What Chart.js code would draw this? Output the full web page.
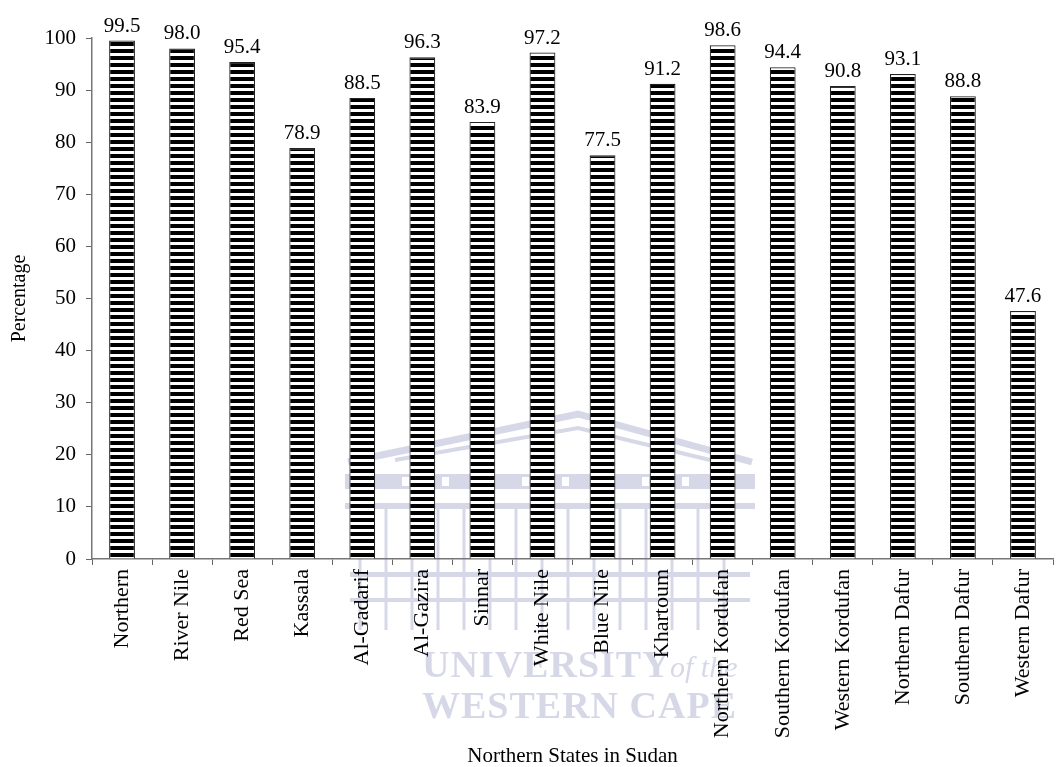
<!DOCTYPE html>
<html>
<head>
<meta charset="utf-8">
<script src="https://cdn.jsdelivr.net/npm/chart.js@4.4.1/dist/chart.umd.min.js"></script>
<style>
  html, body { margin: 0; padding: 0; background: #fff; }
  #wrap { width: 1059px; height: 767px; position: relative; }
</style>
</head>
<body>
<div id="wrap"><canvas id="stateChart"></canvas></div>
<script>
// state names and percentages
const states = ['Northern', 'River Nile', 'Red Sea', 'Kassala', 'Al-Gadarif', 'Al-Gazira', 'Sinnar',
  'White Nile', 'Blue Nile', 'Khartoum', 'Northern Kordufan', 'Southern Kordufan', 'Western Kordufan',
  'Northern Dafur', 'Southern Dafur', 'Western Dafur'];
const percentages = [99.5, 98.0, 95.4, 78.9, 88.5, 96.3, 83.9, 97.2, 77.5, 91.2, 98.6, 94.4, 90.8, 93.1, 88.8, 47.6];
const yTicks = [0, 10, 20, 30, 40, 50, 60, 70, 80, 90, 100];

const SERIF = '"Liberation Serif", "Times New Roman", serif';
const WM = '#d6d8e8';

// horizontal stripe fill for the bars
function makeStripes() {
  const c = document.createElement('canvas');
  c.width = 4; c.height = 7;
  const g = c.getContext('2d');
  g.fillStyle = '#fff';
  g.fillRect(0, 0, 4, 7);
  g.fillStyle = '#000';
  g.fillRect(0, 0, 4, 4);
  return g.createPattern(c, 'repeat');
}

// faint campus watermark, drawn first so axes and labels sit on top
const watermark = {
  id: 'watermark',
  beforeDraw(chart) {
    const ctx = chart.ctx;
    ctx.save();
    ctx.strokeStyle = WM;
    ctx.fillStyle = WM;
    // pediment
    ctx.lineWidth = 7;
    ctx.beginPath();
    ctx.moveTo(348, 462); ctx.lineTo(578, 414); ctx.lineTo(752, 462);
    ctx.stroke();
    ctx.lineWidth = 4;
    ctx.beginPath();
    ctx.moveTo(395, 460); ctx.lineTo(578, 428); ctx.lineTo(710, 460);
    ctx.stroke();
    // entablature band with slots
    ctx.fillRect(345, 474, 410, 15);
    ctx.fillStyle = '#fff';
    for (let x = 362; x < 740; x += 40) ctx.fillRect(x, 477, 7, 9);
    ctx.fillStyle = WM;
    ctx.fillRect(345, 503, 410, 6);
    ctx.fillRect(350, 572, 400, 5);
    ctx.fillRect(350, 598, 400, 4);
    // columns
    ctx.lineWidth = 3;
    for (let x = 360; x < 745; x += 26) {
      ctx.beginPath();
      ctx.moveTo(x, 509); ctx.lineTo(x, 630);
      ctx.stroke();
    }
    // lettering
    ctx.textBaseline = 'alphabetic';
    ctx.textAlign = 'left';
    ctx.font = 'bold 38px ' + SERIF;
    ctx.letterSpacing = '1px';
    ctx.fillText('UNIVERSITY', 422, 677);
    ctx.fillText('WESTERN CAPE', 422, 718);
    ctx.font = 'italic 30px ' + SERIF;
    ctx.letterSpacing = '0px';
    ctx.fillText('of the', 670, 677);
    ctx.restore();
  }
};

// value printed above each bar
const valueLabels = {
  id: 'valueLabels',
  afterDatasetsDraw(chart) {
    const ctx = chart.ctx;
    const meta = chart.getDatasetMeta(0);
    ctx.save();
    ctx.fillStyle = '#000';
    ctx.font = '21px ' + SERIF;
    ctx.textAlign = 'center';
    ctx.textBaseline = 'bottom';
    meta.data.forEach((bar, i) => {
      ctx.fillText(percentages[i].toFixed(1), bar.x, bar.y - 4);
    });
    ctx.restore();
  }
};

const ctx = document.getElementById('stateChart').getContext('2d');
new Chart(ctx, {
  type: 'bar',
  data: {
    labels: states,
    datasets: [{
      data: percentages,
      backgroundColor: makeStripes(),
      borderColor: '#222',
      borderWidth: 1.2,
      barPercentage: 0.43,
      categoryPercentage: 1.0
    }]
  },
  options: {
    responsive: true,
    maintainAspectRatio: false,
    animation: false,
    layout: { padding: { top: 38, right: 6, left: 0, bottom: 0 } },
    plugins: {
      legend: { display: false },
      tooltip: { enabled: false }
    },
    scales: {
      x: {
        offset: true,
        grid: { display: true, drawOnChartArea: false, offset: true, tickLength: 6, color: '#666' },
        border: { color: '#777', width: 1.5 },
        ticks: {
          color: '#000',
          font: { family: SERIF, size: 22 },
          minRotation: 90,
          maxRotation: 90,
          autoSkip: false,
          padding: 4
        },
        title: {
          display: true,
          text: 'Northern States in Sudan',
          color: '#000',
          font: { family: SERIF, size: 21, lineHeight: 1.0 },
          padding: { top: 0, bottom: 0 }
        },
        afterFit(scale) { scale.height = 208; }
      },
      y: {
        min: 0,
        max: 100,
        afterBuildTicks(scale) { scale.ticks = yTicks.map(v => ({ value: v })); },
        grid: { display: true, drawOnChartArea: false, tickLength: 6, color: '#666' },
        border: { color: '#777', width: 1.5 },
        ticks: {
          color: '#000',
          font: { family: SERIF, size: 21 },
          padding: 10
        },
        title: {
          display: true,
          text: 'Percentage',
          color: '#000',
          font: { family: SERIF, size: 20 },
          padding: { top: 8, bottom: 0 }
        },
        afterFit(scale) { scale.width = 92; }
      }
    }
  },
  plugins: [watermark, valueLabels]
});
</script>
</body>
</html>
